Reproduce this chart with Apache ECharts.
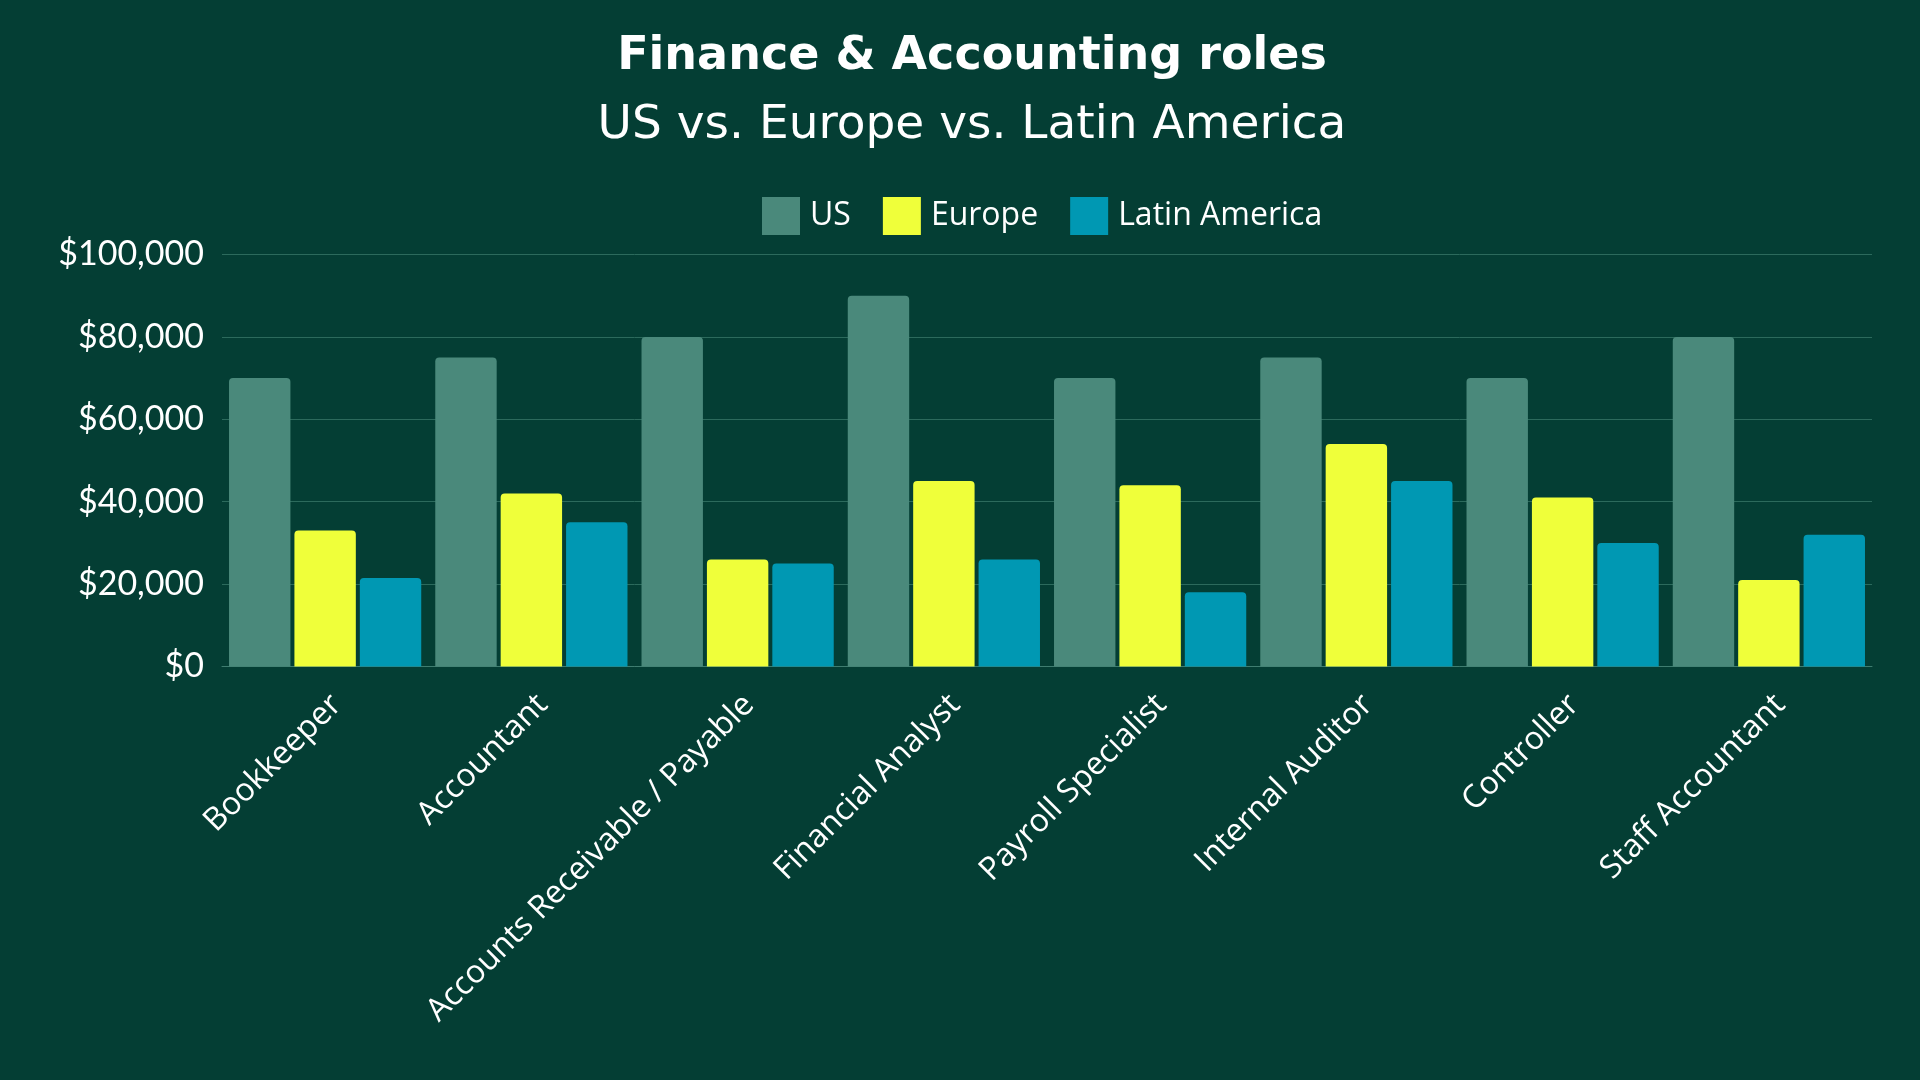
<!DOCTYPE html>
<html>
<head>
<meta charset="utf-8">
<title>Finance & Accounting roles</title>
<script src="https://cdn.jsdelivr.net/npm/echarts@6/dist/echarts.min.js"></script>
<style>
  html, body { margin: 0; padding: 0; background: #043e34; }
  #chart { width: 1920px; height: 1080px; }
</style>
</head>
<body>
<div id="chart"></div>
<script>
// roles on the x axis
const roles = [
  'Bookkeeper',
  'Accountant',
  'Accounts Receivable / Payable',
  'Financial Analyst',
  'Payroll Specialist',
  'Internal Auditor',
  'Controller',
  'Staff Accountant',
]

// yearly salary, USD
const us = [70000, 75000, 80000, 90000, 70000, 75000, 70000, 80000]
const europe = [33000, 42000, 26000, 45000, 44000, 54000, 41000, 21000]
const latinAmerica = [21500, 35000, 25000, 26000, 18000, 45000, 30000, 32000]

const yTicks = [0, 20000, 40000, 60000, 80000, 100000]

const COLORS = {
  bg: '#043e34',
  us: '#4a897b',
  europe: '#efff3a',
  latam: '#0098b3',
  grid: '#2c6a5c',
  text: '#ffffff',
}

const money = (v) => '$' + Number(v).toLocaleString('en-US')

const makeSeries = (name, data, color) => ({
  name,
  type: 'bar',
  data,
  barGap: '6.5%',
  barCategoryGap: '6.8%',
  itemStyle: {
    color,
    borderRadius: [4, 4, 0, 0],
  },
  emphasis: { disabled: true },
})

const chart = echarts.init(document.getElementById('chart'), null, { renderer: 'canvas' })

chart.setOption({
  animation: false,
  backgroundColor: COLORS.bg,
  title: [
    {
      text: 'Finance & Accounting roles',
      left: 967,
      top: 29,
      textAlign: 'center',
      textStyle: {
        color: COLORS.text,
        fontFamily: 'DejaVu Sans',
        fontWeight: 'bold',
        fontSize: 46,
      },
    },
    {
      text: 'US vs. Europe vs. Latin America',
      left: 967,
      top: 97,
      textAlign: 'center',
      textStyle: {
        color: COLORS.text,
        fontFamily: 'DejaVu Sans',
        fontWeight: 'normal',
        fontSize: 47,
      },
    },
  ],
  legend: {
    top: 197,
    left: 762,
    padding: 0,
    itemWidth: 38,
    itemHeight: 38,
    itemGap: 32,
    icon: 'rect',
    selectedMode: false,
    textStyle: {
      color: COLORS.text,
      fontFamily: 'Open Sans',
      fontSize: 32,
      padding: [0, 0, 0, 5],
    },
    data: ['US', 'Europe', 'Latin America'],
  },
  grid: {
    left: 222,
    right: 48,
    top: 254.5,
    bottom: 413.5,
    containLabel: false,
    outerBoundsMode: 'none',
  },
  xAxis: {
    type: 'category',
    data: roles,
    axisTick: { show: false },
    axisLine: { show: true, lineStyle: { color: '#3f7d70', width: 1 } },
    axisLabel: {
      interval: 0,
      rotate: 45,
      margin: 22,
      verticalAlign: 'top',
      color: COLORS.text,
      fontFamily: 'Open Sans',
      fontSize: 32,
    },
  },
  yAxis: {
    type: 'value',
    min: yTicks[0],
    max: yTicks[yTicks.length - 1],
    interval: yTicks[1] - yTicks[0],
    axisLine: { show: false },
    axisTick: { show: false },
    splitLine: { lineStyle: { color: COLORS.grid, width: 1 } },
    axisLabel: {
      margin: 18,
      color: COLORS.text,
      fontFamily: 'Lato',
      fontSize: 34,
      formatter: money,
    },
  },
  series: [
    makeSeries('US', us, COLORS.us),
    makeSeries('Europe', europe, COLORS.europe),
    makeSeries('Latin America', latinAmerica, COLORS.latam),
  ],
})
</script>
</body>
</html>
